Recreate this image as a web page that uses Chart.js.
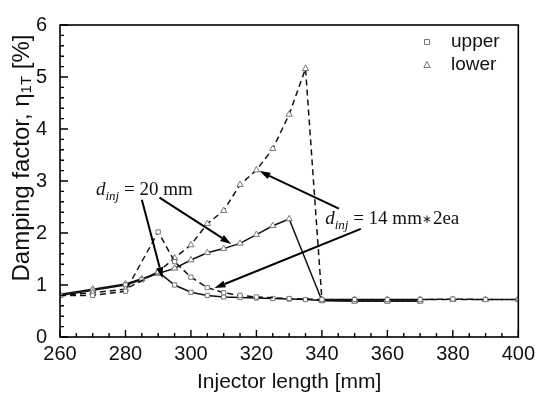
<!DOCTYPE html>
<html><head><meta charset="utf-8">
<script src="https://cdn.jsdelivr.net/npm/chart.js@4.4.0/dist/chart.umd.min.js"></script>
<style>html,body{margin:0;padding:0;background:#fff}</style>
</head><body>
<canvas id="c" width="540" height="400"></canvas>
<script>
// ---- tick labels ----
const xTicks = [260, 280, 300, 320, 340, 360, 380, 400];
const yTicks = [0, 1, 2, 3, 4, 5, 6];

// ---- d_inj = 20 mm (solid) ----
const xD20Upper = [260, 270, 280, 285, 290, 295, 300, 305, 310, 315, 320, 325, 330, 335, 340, 350, 360, 370];
const yD20Upper = [0.80, 0.90, 1.00, 1.10, 1.25, 1.00, 0.86, 0.80, 0.77, 0.76, 0.75, 0.74, 0.73, 0.72, 0.70, 0.69, 0.69, 0.69];
const xD20Lower = [260, 270, 280, 285, 290, 295, 300, 305, 310, 315, 320, 325, 330, 340, 350, 360, 370];
const yD20Lower = [0.82, 0.92, 1.02, 1.12, 1.22, 1.32, 1.48, 1.62, 1.70, 1.80, 1.97, 2.14, 2.27, 0.70, 0.69, 0.69, 0.69];

// ---- d_inj = 14 mm*2ea (dashed) ----
const xD14Upper = [260, 270, 280, 290, 295, 300, 305, 310, 315, 320, 330, 340, 350, 360, 370, 380, 390, 400];
const yD14Upper = [0.80, 0.80, 0.88, 2.02, 1.45, 1.15, 0.95, 0.85, 0.80, 0.77, 0.74, 0.72, 0.72, 0.72, 0.72, 0.73, 0.72, 0.72];
const xD14Lower = [260, 270, 280, 290, 295, 300, 305, 310, 315, 320, 325, 330, 335, 340, 350, 360, 370, 380, 390, 400];
const yD14Lower = [0.80, 0.85, 0.92, 1.25, 1.52, 1.77, 2.18, 2.43, 2.93, 3.21, 3.62, 4.28, 5.16, 0.72, 0.72, 0.72, 0.72, 0.72, 0.72, 0.72];

const legendLabels = ['upper', 'lower'];

// annotation anchors in data units
const arrows = [
  [285.0, 2.64, 291.3, 1.13],
  [290.4, 2.68, 312.3, 1.79],
  [345.2, 2.47, 320.9, 3.19],
  [351.9, 2.08, 307.2, 0.94]
];
const notes = [
  {x: 271.0, y: 2.74, parts: [' = 20 mm']},
  {x: 341.0, y: 2.18, parts: [' = 14 mm', '\u2217', '2ea']}
];

const pts = (xs, ys) => xs.map((v, i) => ({x: v, y: ys[i]}));

function ds(label, xs, ys, style, dashed) {
  return {
    label, data: pts(xs, ys),
    borderColor: '#111', borderWidth: 1.5, borderDash: dashed ? [6, 4] : [],
    pointStyle: style, pointRadius: style === 'triangle' ? 3.6 : 3,
    pointBorderColor: '#777', pointBackgroundColor: '#fff', pointBorderWidth: 1,
    tension: 0, fill: false
  };
}

const deco = {
  id: 'deco',
  afterDraw(chart) {
    const {ctx, chartArea: a, scales: {x, y}} = chart;
    ctx.save();
    ctx.strokeStyle = '#000';
    ctx.lineWidth = 1.6;
    ctx.strokeRect(a.left, a.top, a.right - a.left, a.bottom - a.top);
    ctx.lineWidth = 1.4;
    ctx.beginPath();
    for (let i = 0; i <= 28; i++) {
      const v = 260 + i * 5;
      const px = x.getPixelForValue(v);
      const len = (i % 4 === 0) ? 7 : 4;
      ctx.moveTo(px, a.bottom); ctx.lineTo(px, a.bottom - len);
    }
    for (let i = 0; i <= 30; i++) {
      const py = y.getPixelForValue(i / 5);
      const len = (i % 5 === 0) ? 8 : 4;
      ctx.moveTo(a.left, py); ctx.lineTo(a.left + len, py);
    }
    ctx.stroke();

    // arrows
    ctx.fillStyle = '#000';
    ctx.lineWidth = 2;
    arrows.forEach(([x1, y1, x2, y2]) => {
      const p1x = x.getPixelForValue(x1), p1y = y.getPixelForValue(y1);
      const p2x = x.getPixelForValue(x2), p2y = y.getPixelForValue(y2);
      const ang = Math.atan2(p2y - p1y, p2x - p1x);
      const hl = 11, hw = 3.5;
      const bx = p2x - hl * Math.cos(ang), by = p2y - hl * Math.sin(ang);
      ctx.beginPath(); ctx.moveTo(p1x, p1y); ctx.lineTo(bx, by); ctx.stroke();
      ctx.beginPath();
      ctx.moveTo(p2x, p2y);
      ctx.lineTo(bx + hw * Math.sin(ang), by - hw * Math.cos(ang));
      ctx.lineTo(bx - hw * Math.sin(ang), by + hw * Math.cos(ang));
      ctx.closePath(); ctx.fill();
    });

    // notes
    ctx.fillStyle = '#111';
    ctx.textBaseline = 'alphabetic';
    ctx.textAlign = 'left';
    notes.forEach(n => {
      let px = x.getPixelForValue(n.x), py = y.getPixelForValue(n.y);
      ctx.font = 'italic 19px "Liberation Serif"';
      ctx.fillText('d', px, py); px += ctx.measureText('d').width;
      ctx.font = 'italic 13px "Liberation Serif"';
      ctx.fillText('inj', px, py + 5); px += ctx.measureText('inj').width;
      n.parts.forEach(t => {
        if (t === '\u2217') {
          ctx.font = '12px "Liberation Serif"';
          ctx.fillText(t, px + 0.5, py - 1); px += ctx.measureText(t).width + 1;
        } else {
          ctx.font = '19px "Liberation Serif"';
          ctx.fillText(t, px, py); px += ctx.measureText(t).width;
        }
      });
    });

    // legend
    ctx.font = '19px "Liberation Sans"';
    ctx.textBaseline = 'middle';
    ctx.strokeStyle = '#777'; ctx.lineWidth = 1;
    const lx = 427, rows = [42, 65];
    legendLabels.forEach((t, i) => {
      const cy = rows[i];
      ctx.beginPath();
      if (i === 0) { ctx.rect(lx - 2.5, cy - 2.5, 5, 5); }
      else { ctx.moveTo(lx, cy - 3.5); ctx.lineTo(lx + 3.2, cy + 2.5); ctx.lineTo(lx - 3.2, cy + 2.5); ctx.closePath(); }
      ctx.stroke();
      ctx.fillStyle = '#111';
      ctx.fillText(t, 451, cy);
    });

    // axis titles
    ctx.fillStyle = '#111';
    ctx.textAlign = 'center';
    ctx.font = '21px "Liberation Sans"';
    ctx.fillText('Injector length [mm]', (a.left + a.right) / 2, 382);

    ctx.save();
    ctx.translate(22, 158);
    ctx.rotate(-Math.PI / 2);
    ctx.textAlign = 'left';
    ctx.textBaseline = 'middle';
    const parts = [['Damping factor, \u03b7', 24, 0], ['1T', 15, 5], [' [%]', 24, 0]];
    let total = 0;
    parts.forEach(p => { ctx.font = p[1] + 'px "Liberation Sans"'; total += ctx.measureText(p[0]).width; });
    let tx = -total / 2;
    parts.forEach(p => { ctx.font = p[1] + 'px "Liberation Sans"'; ctx.fillText(p[0], tx, p[2]); tx += ctx.measureText(p[0]).width; });
    ctx.restore();
    ctx.restore();
  }
};

Chart.defaults.font.family = '"Liberation Sans", Arial, sans-serif';
Chart.defaults.color = '#111';

new Chart(document.getElementById('c'), {
  type: 'line',
  data: {
    datasets: [
      ds('d14 upper', xD14Upper, yD14Upper, 'rect', true),
      ds('d14 lower', xD14Lower, yD14Lower, 'triangle', true),
      ds('d20 upper', xD20Upper, yD20Upper, 'rect', false),
      ds('d20 lower', xD20Lower, yD20Lower, 'triangle', false)
    ]
  },
  options: {
    responsive: false, animation: false,
    layout: {padding: {top: 19, right: 20, left: 0, bottom: 0}},
    plugins: {legend: {display: false}, tooltip: {enabled: false}},
    scales: {
      x: {
        type: 'linear', min: 260, max: 400,
        afterBuildTicks: s => { s.ticks = xTicks.map(v => ({value: v})); },
        afterFit: s => { s.height = 63; },
        ticks: {font: {size: 20}, padding: 5, maxRotation: 0, autoSkip: false},
        grid: {display: false, drawTicks: false}, border: {display: false}
      },
      y: {
        type: 'linear', min: 0, max: 6,
        afterBuildTicks: s => { s.ticks = yTicks.map(v => ({value: v})); },
        afterFit: s => { s.width = 60; },
        ticks: {font: {size: 20}, padding: 13},
        grid: {display: false, drawTicks: false}, border: {display: false}
      }
    }
  },
  plugins: [deco]
});
</script>
</body></html>
